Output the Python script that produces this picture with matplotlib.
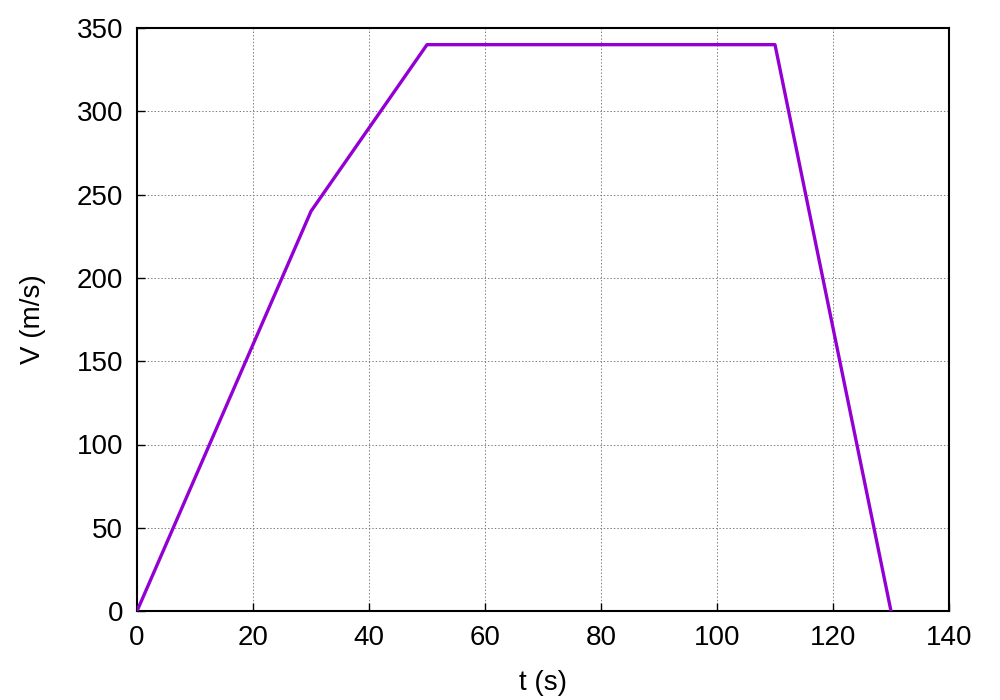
import matplotlib
matplotlib.use("Agg")
import matplotlib.pyplot as plt

# velocity profile
t = [0, 30, 50, 110, 130]
v = [0, 240, 340, 340, 0]
xticks = [0, 20, 40, 60, 80, 100, 120, 140]
yticks = [0, 50, 100, 150, 200, 250, 300, 350]

plt.rcParams["font.family"] = ["Liberation Sans", "DejaVu Sans"]

fig = plt.figure(figsize=(10, 7), dpi=100)
ax = fig.add_axes([0.137, 0.127, 0.812, 0.833])
ax.plot(t, v, color="#9400D3", lw=2.4, zorder=3)

ax.set_xlim(0, 140)
ax.set_ylim(0, 350)
ax.set_xticks(xticks)
ax.set_yticks(yticks)
ax.grid(True, color="#808080", ls=(0, (1.5, 2)), lw=0.7)
ax.tick_params(direction="in", length=6, width=1, labelsize=20, pad=10,
               top=False, right=False)
for s in ax.spines.values():
    s.set_linewidth(1.5)
ax.set_xlabel("t (s)", fontsize=20, labelpad=14)
ax.set_ylabel("V (m/s)", fontsize=20, labelpad=22)

fig.savefig("out.png", dpi=100)
